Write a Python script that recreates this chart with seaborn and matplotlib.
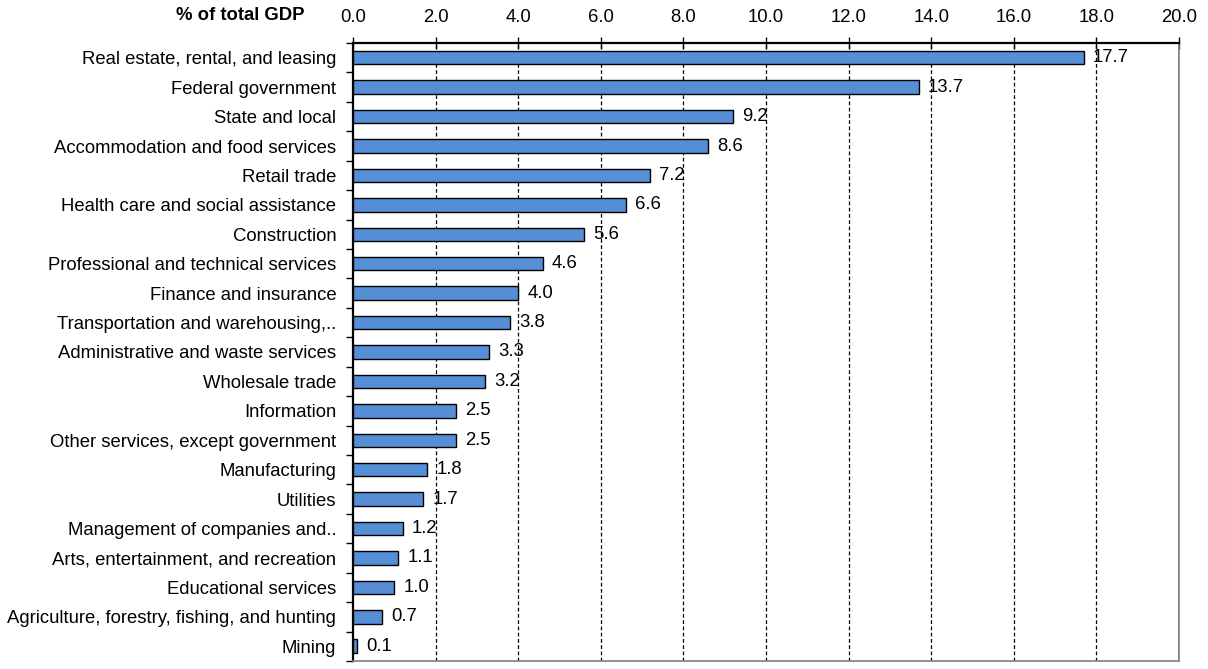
import matplotlib
matplotlib.use("Agg")
import matplotlib.pyplot as plt
import seaborn as sns
import pandas as pd
from matplotlib.ticker import FixedLocator

categories = [
    "Real estate, rental, and leasing",
    "Federal government",
    "State and local",
    "Accommodation and food services",
    "Retail trade",
    "Health care and social assistance",
    "Construction",
    "Professional and technical services",
    "Finance and insurance",
    "Transportation and warehousing,..",
    "Administrative and waste services",
    "Wholesale trade",
    "Information",
    "Other services, except government",
    "Manufacturing",
    "Utilities",
    "Management of companies and..",
    "Arts, entertainment, and recreation",
    "Educational services",
    "Agriculture, forestry, fishing, and hunting",
    "Mining",
]
values = [17.7, 13.7, 9.2, 8.6, 7.2, 6.6, 5.6, 4.6, 4.0, 3.8, 3.3, 3.2,
          2.5, 2.5, 1.8, 1.7, 1.2, 1.1, 1.0, 0.7, 0.1]
xticks = [0, 2, 4, 6, 8, 10, 12, 14, 16, 18, 20]

df = pd.DataFrame({"sector": categories, "share": values})

sns.set_style("white")
plt.rcParams["font.family"] = ["Liberation Sans", "DejaVu Sans"]
plt.rcParams["text.color"] = "black"
plt.rcParams["xtick.color"] = "black"
plt.rcParams["ytick.color"] = "black"
plt.rcParams["xtick.labelcolor"] = "black"
plt.rcParams["ytick.labelcolor"] = "black"

FS = 13.3

fig = plt.figure(figsize=(12.08, 6.69), dpi=100)
ax = fig.add_axes([0.2922, 0.012, 0.976 - 0.2922, 0.9357 - 0.012])

sns.barplot(data=df, x="share", y="sector", orient="h", color="#558ED5",
            saturation=1, edgecolor="black", linewidth=1.0, width=0.46, ax=ax, zorder=3)

ax.set_xlim(0, 20)
ax.set_ylim(len(categories) - 0.5, -0.5)
ax.xaxis.tick_top()
ax.set_xticks(xticks)
ax.set_xticklabels([f"{t:.1f}" for t in xticks], fontsize=FS)
ax.tick_params(axis="x", which="major", direction="inout", length=8, width=1, pad=8,
               top=True, bottom=False, colors="black")
ax.set_xlabel("")
ax.set_ylabel("")

# y ticks: labels at categories, tick marks at boundaries
ax.tick_params(axis="y", which="major", length=0, pad=12, labelsize=FS, colors="black")
ax.yaxis.set_minor_locator(FixedLocator([i - 0.5 for i in range(len(categories) + 1)]))
ax.tick_params(axis="y", which="minor", direction="out", length=5, width=1, left=True, colors="black")

# gridlines
for t in xticks[1:-1]:
    ax.axvline(t, color="black", linestyle=(0, (3, 2)), linewidth=0.9, zorder=1)
ax.axvline(20, color="#808080", linestyle="-", linewidth=1.2, zorder=1)

for side in ["top", "left"]:
    ax.spines[side].set_color("black")
    ax.spines[side].set_linewidth(1.6)
for side in ["bottom", "right"]:
    ax.spines[side].set_color("#808080")
    ax.spines[side].set_linewidth(1.2)

for i, v in enumerate(values):
    ax.annotate(f"{v:.1f}", xy=(v, i), xytext=(6.5, 0), textcoords="offset points",
                va="center", ha="left", fontsize=FS, color="black", zorder=5)

fig.text(0.199, 0.977, "% of total GDP", ha="center", va="center",
         fontsize=FS, fontweight="bold", color="black")

fig.savefig("out.png", dpi=100)
